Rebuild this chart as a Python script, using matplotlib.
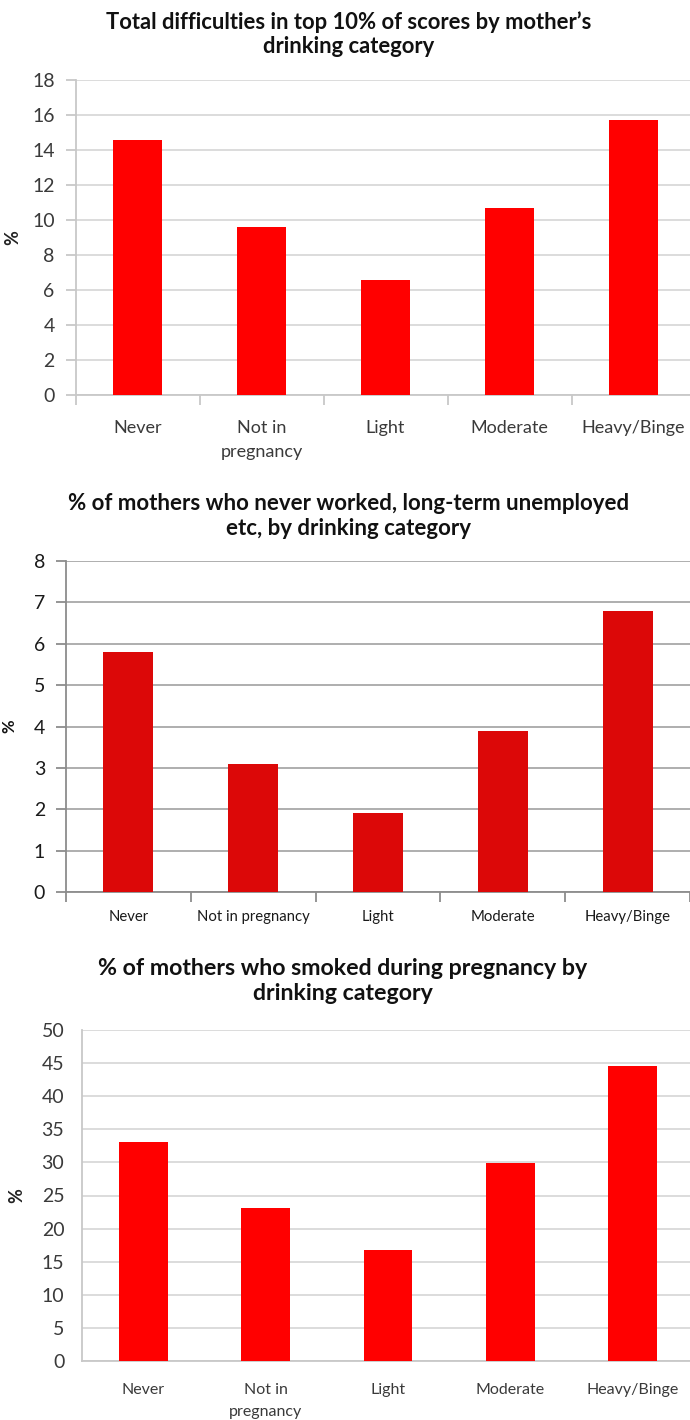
import matplotlib
matplotlib.use("Agg")
import matplotlib.pyplot as plt
import numpy as np

plt.rcParams['font.family'] = ['Lato', 'DejaVu Sans']

categories_a = ["Never", "Not in\npregnancy", "Light", "Moderate", "Heavy/Binge"]
categories_b = ["Never", "Not in pregnancy", "Light", "Moderate", "Heavy/Binge"]

difficulties = [14.6, 9.6, 6.6, 10.7, 15.7]
unemployed = [5.8, 3.1, 1.9, 3.9, 6.8]
smoked = [33.1, 23.1, 16.7, 29.9, 44.6]

titles = [
    "Total difficulties in top 10% of scores by mother\u2019s\ndrinking category",
    "% of mothers who never worked, long-term unemployed\netc, by drinking category",
    "% of mothers who smoked during pregnancy by\ndrinking category",
]

W, H = 690, 1420
fig = plt.figure(figsize=(W / 100, H / 100), dpi=100)
fig.patch.set_facecolor("white")


def add_ax(left, right, top, bottom):
    return fig.add_axes([left / W, 1 - bottom / H, (right - left) / W, (bottom - top) / H])


def style(ax, values, cats, ymax, ystep, color, grid_c, spine_c,
          ytick_fs, xtick_fs, ticklen, ypad, xpad, lab_c, lsp):
    x = np.arange(len(values))
    ax.bar(x, values, width=0.4, color=color, zorder=3)
    ax.set_xlim(-0.5, len(values) - 0.5)
    ax.set_ylim(0, ymax)
    ax.set_yticks(np.arange(0, ymax + ystep / 2, ystep))
    ax.yaxis.grid(True, color=grid_c, linewidth=1.3, zorder=0)
    ax.set_axisbelow(True)
    for s in ["top", "right"]:
        ax.spines[s].set_visible(False)
    for s in ["left", "bottom"]:
        ax.spines[s].set_color(spine_c)
        ax.spines[s].set_linewidth(1.3)
    ax.set_xticks(x)
    ax.set_xticklabels(cats, fontsize=xtick_fs, color=lab_c, linespacing=lsp)
    ax.tick_params(axis="x", which="major", length=0, pad=xpad)
    ax.set_xticks(np.arange(-0.5, len(values)), minor=True)
    ax.tick_params(axis="x", which="minor", length=ticklen, color=spine_c, width=1.3)
    ax.tick_params(axis="y", length=ticklen, color=spine_c, width=1.3, pad=ypad,
                   labelsize=ytick_fs, labelcolor=lab_c)


# Panel 1
ax1 = add_ax(75.5, 695.5, 80, 395)
style(ax1, difficulties, categories_a, 18, 2, "#FF0000", "#D9D9D9", "#C8C8C8",
      14, 13, 7, 8, 18, "#3A3A3A", 1.6)
ax1.set_ylabel("%", fontsize=13, fontweight="bold", labelpad=8, color="#222222")

# Panel 2
ax2 = add_ax(66, 690, 561, 892)
style(ax2, unemployed, categories_b, 8, 1, "#DC0808", "#A8A8A8", "#8C8C8C",
      14, 10.7, 7, 8, 13, "#1A1A1A", 1.4)
ax2.set_ylabel("%", fontsize=12, fontweight="bold", labelpad=12, color="#111111")

# Panel 3
ax3 = add_ax(82.4, 693.5, 1030, 1361)
style(ax3, smoked, categories_a, 50, 5, "#FF0000", "#D9D9D9", "#C8C8C8",
      14, 11.5, 0, 13, 16, "#3A3A3A", 1.75)
ax3.set_ylabel("%", fontsize=13, fontweight="bold", labelpad=12, color="#222222")

# Titles
fig.text(349 / W, 1 - 34 / H, titles[0], ha="center", va="center", fontsize=15.8,
         fontweight="bold", linespacing=1.2, color="#111111")
fig.text(349 / W, 1 - 516 / H, titles[1], ha="center", va="center", fontsize=16,
         fontweight="bold", linespacing=1.2, color="#111111")
fig.text(343 / W, 1 - 981 / H, titles[2], ha="center", va="center", fontsize=16.7,
         fontweight="bold", linespacing=1.25, color="#111111")

fig.savefig("out.png", dpi=100, facecolor="white")
